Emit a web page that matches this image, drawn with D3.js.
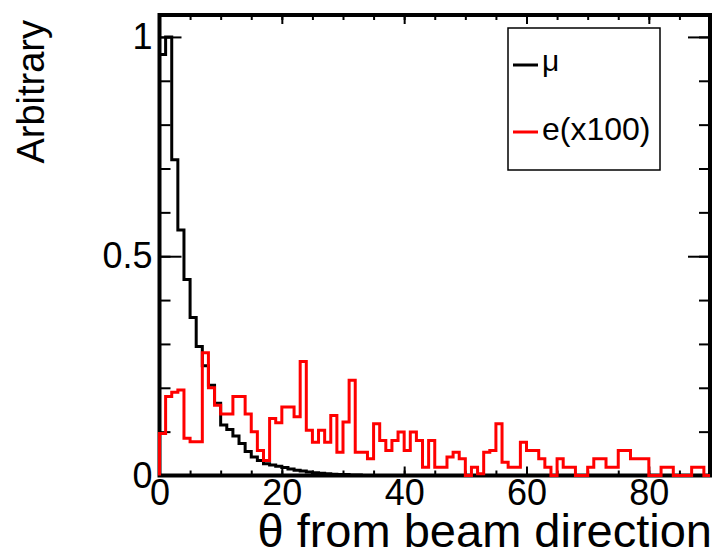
<!DOCTYPE html>
<html>
<head>
<meta charset="utf-8">
<script src="https://cdn.jsdelivr.net/npm/d3@7"></script>
<style>
  html, body { margin: 0; padding: 0; background: #fff; }
  svg { display: block; }
  text { font-family: "Liberation Sans", Arial, Helvetica, sans-serif; fill: #000; }
</style>
</head>
<body>
<svg id="chart" width="715" height="556"></svg>
<script>
// Angular distributions, 1-degree bins from 0 to 90 degrees
const binEdgesFrom = 0;
const binWidth = 1;

// muon distribution (normalised to peak)
const muonCounts = [
  0.96, 1.0, 0.72, 0.56, 0.447, 0.36, 0.294, 0.25, 0.206, 0.165,
  0.115, 0.105, 0.09, 0.073, 0.055, 0.042, 0.034, 0.027, 0.024, 0.021,
  0.018, 0.015, 0.012, 0.010, 0.008, 0.006, 0.005, 0.004, 0.003, 0.002,
  0.002, 0.001, 0.001, 0, 0, 0, 0, 0, 0, 0,
  0, 0, 0, 0, 0, 0, 0, 0, 0, 0,
  0, 0, 0, 0, 0, 0, 0, 0, 0, 0,
  0, 0, 0, 0, 0, 0, 0, 0, 0, 0,
  0, 0, 0, 0, 0, 0, 0, 0, 0, 0,
  0, 0, 0, 0, 0, 0, 0, 0, 0, 0
];

// electron distribution, scaled by 100
const electronCounts = [
  0.096, 0.18, 0.19, 0.195, 0.085, 0.077, 0.077, 0.28, 0.2, 0.16,
  0.14, 0.14, 0.18, 0.18, 0.14, 0.1, 0.057, 0.034, 0.13, 0.12,
  0.156, 0.156, 0.134, 0.26, 0.103, 0.076, 0.103, 0.076, 0.137, 0.053,
  0.122, 0.217, 0.053, 0.053, 0.038, 0.118, 0.08, 0.057, 0.08, 0.099,
  0.057, 0.099, 0.08, 0.019, 0.08, 0.019, 0.019, 0.042, 0.053, 0.038,
  0, 0.019, 0.004, 0.053, 0.057, 0.118, 0.03, 0.019, 0.019, 0.076,
  0.057, 0.057, 0.038, 0.019, 0, 0.038, 0.019, 0.019, 0, 0,
  0.019, 0.038, 0.038, 0.019, 0.019, 0.057, 0.057, 0.038, 0.038, 0.038,
  0, 0, 0.019, 0.019, 0, 0, 0, 0.019, 0.019, 0
];

const xTickValues = [0, 20, 40, 60, 80];
const xMinorValues = d3.range(0, 91, 5);
const yTickValues = [0, 0.5, 1];
const yMinorValues = d3.range(0, 10.5, 1).map(d => d / 10);

const legendLabels = ["\u03bc", "e(x100)"];
const seriesColors = ["#000000", "#ff0000"];

const xTitle = "\u03b8 from beam direction";
const yTitle = "Arbitrary";

const svg = d3.select("#chart");
const frame = { left: 159.5, right: 710, top: 15, bottom: 475.5 };

const x = d3.scaleLinear().domain([0, 90]).range([frame.left, frame.right]);
const y = d3.scaleLinear().domain([0, 1.05]).range([frame.bottom, frame.top]);

// frame
svg.append("rect")
  .attr("x", frame.left).attr("y", frame.top)
  .attr("width", frame.right - frame.left).attr("height", frame.bottom - frame.top)
  .attr("fill", "none").attr("stroke", "#000").attr("stroke-width", 4);

function styleAxis(g) {
  g.select(".domain").remove();
  g.selectAll(".tick line").attr("stroke", "#000").attr("stroke-width", 2);
}

// minor ticks (inward)
svg.append("g").attr("transform", `translate(0,${frame.bottom})`)
  .call(d3.axisBottom(x).tickValues(xMinorValues).tickSize(-5).tickFormat(""))
  .call(styleAxis);
svg.append("g").attr("transform", `translate(0,${frame.top})`)
  .call(d3.axisTop(x).tickValues(xMinorValues).tickSize(-5).tickFormat(""))
  .call(styleAxis);
svg.append("g").attr("transform", `translate(${frame.left},0)`)
  .call(d3.axisLeft(y).tickValues(yMinorValues).tickSize(-11).tickFormat(""))
  .call(styleAxis);
svg.append("g").attr("transform", `translate(${frame.right},0)`)
  .call(d3.axisRight(y).tickValues(yMinorValues).tickSize(-11).tickFormat(""))
  .call(styleAxis);

// major ticks with labels
const xAxis = svg.append("g").attr("transform", `translate(0,${frame.bottom})`)
  .call(d3.axisBottom(x).tickValues(xTickValues).tickSize(-9).tickPadding(4).tickFormat(d3.format("d")))
  .call(styleAxis);
xAxis.selectAll("text").attr("font-size", 36).attr("font-family", "Liberation Sans, Arial, sans-serif");

svg.append("g").attr("transform", `translate(0,${frame.top})`)
  .call(d3.axisTop(x).tickValues(xTickValues).tickSize(-9).tickFormat(""))
  .call(styleAxis);

const yAxis = svg.append("g").attr("transform", `translate(${frame.left},0)`)
  .call(d3.axisLeft(y).tickValues(yTickValues).tickSize(-22).tickPadding(7).tickFormat(d => d3.format("~g")(d)))
  .call(styleAxis);
yAxis.selectAll("text").attr("font-size", 36).attr("font-family", "Liberation Sans, Arial, sans-serif");

svg.append("g").attr("transform", `translate(${frame.right},0)`)
  .call(d3.axisRight(y).tickValues([0.5, 1]).tickSize(-22).tickFormat(""))
  .call(styleAxis);

// step outline of a histogram
function histPoints(counts) {
  const pts = [[x(binEdgesFrom), y(0)]];
  counts.forEach((c, i) => {
    const x0 = x(binEdgesFrom + i * binWidth);
    const x1 = x(binEdgesFrom + (i + 1) * binWidth);
    pts.push([x0, y(c)], [x1, y(c)]);
  });
  pts.push([x(binEdgesFrom + counts.length * binWidth), y(0)]);
  return pts;
}
const line = d3.line();

svg.append("path")
  .attr("d", line(histPoints(muonCounts)))
  .attr("fill", "none").attr("stroke", seriesColors[0]).attr("stroke-width", 3)
  .attr("stroke-linejoin", "miter");

svg.append("path")
  .attr("d", line(histPoints(electronCounts)))
  .attr("fill", "none").attr("stroke", seriesColors[1]).attr("stroke-width", 3)
  .attr("stroke-linejoin", "miter");

// legend
const legend = svg.append("g");
legend.append("rect")
  .attr("x", 508).attr("y", 28).attr("width", 152).attr("height", 142)
  .attr("fill", "#fff").attr("stroke", "#000").attr("stroke-width", 1.5);
const legendRows = [65, 132];
legendLabels.forEach((lab, i) => {
  legend.append("line")
    .attr("x1", 513).attr("x2", 538)
    .attr("y1", legendRows[i]).attr("y2", legendRows[i])
    .attr("stroke", seriesColors[i]).attr("stroke-width", 3);
  legend.append("text")
    .attr("x", 542).attr("y", legendRows[i] + (i === 0 ? 6 : 8))
    .attr("font-size", i === 0 ? 30 : 32)
    .text(lab);
});

// axis titles
svg.append("text")
  .attr("x", 712).attr("y", 547)
  .attr("text-anchor", "end").attr("font-size", 47)
  .text(xTitle);

svg.append("text")
  .attr("transform", "translate(44,20) rotate(-90)")
  .attr("text-anchor", "end").attr("font-size", 38)
  .text(yTitle);
</script>
</body>
</html>
